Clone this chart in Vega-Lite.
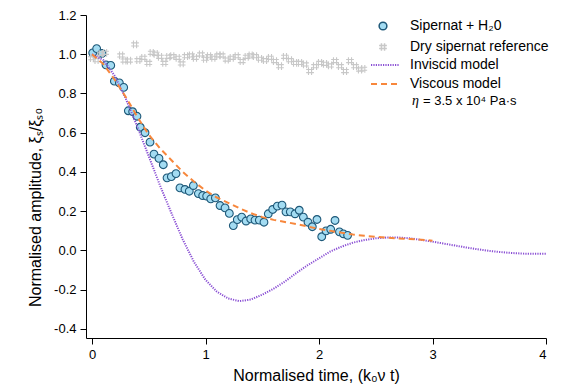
{
  "$schema": "https://vega.github.io/schema/vega-lite/v6.json",
  "width": 460,
  "height": 323,
  "autosize": {"type": "none"},
  "padding": {"left": 86, "top": 15, "right": 20, "bottom": 54},
  "background": "white",
  "config": {
    "view": {"stroke": null},
    "font": "Liberation Sans",
    "axis": {
      "grid": false,
      "domainColor": "#000000",
      "domainWidth": 1,
      "tickColor": "#000000",
      "tickSize": 6,
      "labelColor": "#000000",
      "labelFont": "Liberation Sans",
      "labelFontSize": 13,
      "titleFont": "Liberation Sans",
      "titleFontSize": 16,
      "titleFontWeight": "normal",
      "titleColor": "#000000",
      "labelPadding": 4
    },
    "legend": {
      "labelFont": "Liberation Sans",
      "labelFontSize": 14,
      "labelColor": "#000000",
      "padding": 0
    }
  },
  "datasets": {
    "obs": [
      {"t": 0.006, "amp": 1.007, "series": "Sipernat + H₂0"},
      {"t": 0.041, "amp": 1.029, "series": "Sipernat + H₂0"},
      {"t": 0.088, "amp": 1.004, "series": "Sipernat + H₂0"},
      {"t": 0.123, "amp": 0.946, "series": "Sipernat + H₂0"},
      {"t": 0.165, "amp": 0.943, "series": "Sipernat + H₂0"},
      {"t": 0.197, "amp": 0.863, "series": "Sipernat + H₂0"},
      {"t": 0.241, "amp": 0.854, "series": "Sipernat + H₂0"},
      {"t": 0.279, "amp": 0.831, "series": "Sipernat + H₂0"},
      {"t": 0.320, "amp": 0.712, "series": "Sipernat + H₂0"},
      {"t": 0.358, "amp": 0.707, "series": "Sipernat + H₂0"},
      {"t": 0.396, "amp": 0.684, "series": "Sipernat + H₂0"},
      {"t": 0.425, "amp": 0.628, "series": "Sipernat + H₂0"},
      {"t": 0.467, "amp": 0.600, "series": "Sipernat + H₂0"},
      {"t": 0.511, "amp": 0.552, "series": "Sipernat + H₂0"},
      {"t": 0.546, "amp": 0.491, "series": "Sipernat + H₂0"},
      {"t": 0.590, "amp": 0.469, "series": "Sipernat + H₂0"},
      {"t": 0.628, "amp": 0.437, "series": "Sipernat + H₂0"},
      {"t": 0.661, "amp": 0.370, "series": "Sipernat + H₂0"},
      {"t": 0.699, "amp": 0.376, "series": "Sipernat + H₂0"},
      {"t": 0.740, "amp": 0.392, "series": "Sipernat + H₂0"},
      {"t": 0.775, "amp": 0.319, "series": "Sipernat + H₂0"},
      {"t": 0.819, "amp": 0.311, "series": "Sipernat + H₂0"},
      {"t": 0.857, "amp": 0.302, "series": "Sipernat + H₂0"},
      {"t": 0.893, "amp": 0.331, "series": "Sipernat + H₂0"},
      {"t": 0.937, "amp": 0.290, "series": "Sipernat + H₂0"},
      {"t": 0.975, "amp": 0.280, "series": "Sipernat + H₂0"},
      {"t": 1.010, "amp": 0.277, "series": "Sipernat + H₂0"},
      {"t": 1.046, "amp": 0.263, "series": "Sipernat + H₂0"},
      {"t": 1.087, "amp": 0.268, "series": "Sipernat + H₂0"},
      {"t": 1.128, "amp": 0.229, "series": "Sipernat + H₂0"},
      {"t": 1.172, "amp": 0.217, "series": "Sipernat + H₂0"},
      {"t": 1.210, "amp": 0.189, "series": "Sipernat + H₂0"},
      {"t": 1.245, "amp": 0.127, "series": "Sipernat + H₂0"},
      {"t": 1.280, "amp": 0.157, "series": "Sipernat + H₂0"},
      {"t": 1.319, "amp": 0.170, "series": "Sipernat + H₂0"},
      {"t": 1.357, "amp": 0.150, "series": "Sipernat + H₂0"},
      {"t": 1.398, "amp": 0.161, "series": "Sipernat + H₂0"},
      {"t": 1.436, "amp": 0.155, "series": "Sipernat + H₂0"},
      {"t": 1.474, "amp": 0.155, "series": "Sipernat + H₂0"},
      {"t": 1.515, "amp": 0.144, "series": "Sipernat + H₂0"},
      {"t": 1.553, "amp": 0.187, "series": "Sipernat + H₂0"},
      {"t": 1.592, "amp": 0.209, "series": "Sipernat + H₂0"},
      {"t": 1.633, "amp": 0.226, "series": "Sipernat + H₂0"},
      {"t": 1.674, "amp": 0.231, "series": "Sipernat + H₂0"},
      {"t": 1.709, "amp": 0.197, "series": "Sipernat + H₂0"},
      {"t": 1.747, "amp": 0.197, "series": "Sipernat + H₂0"},
      {"t": 1.789, "amp": 0.187, "series": "Sipernat + H₂0"},
      {"t": 1.826, "amp": 0.205, "series": "Sipernat + H₂0"},
      {"t": 1.862, "amp": 0.170, "series": "Sipernat + H₂0"},
      {"t": 1.903, "amp": 0.144, "series": "Sipernat + H₂0"},
      {"t": 1.941, "amp": 0.121, "series": "Sipernat + H₂0"},
      {"t": 1.982, "amp": 0.158, "series": "Sipernat + H₂0"},
      {"t": 2.024, "amp": 0.070, "series": "Sipernat + H₂0"},
      {"t": 2.062, "amp": 0.100, "series": "Sipernat + H₂0"},
      {"t": 2.103, "amp": 0.108, "series": "Sipernat + H₂0"},
      {"t": 2.141, "amp": 0.153, "series": "Sipernat + H₂0"},
      {"t": 2.180, "amp": 0.095, "series": "Sipernat + H₂0"},
      {"t": 2.215, "amp": 0.085, "series": "Sipernat + H₂0"},
      {"t": 2.252, "amp": 0.077, "series": "Sipernat + H₂0"},
      {"t": 0.000, "amp": 0.980, "series": "Dry sipernat reference"},
      {"t": 0.040, "amp": 0.970, "series": "Dry sipernat reference"},
      {"t": 0.077, "amp": 1.002, "series": "Dry sipernat reference"},
      {"t": 0.115, "amp": 1.007, "series": "Dry sipernat reference"},
      {"t": 0.256, "amp": 0.994, "series": "Dry sipernat reference"},
      {"t": 0.285, "amp": 0.968, "series": "Dry sipernat reference"},
      {"t": 0.326, "amp": 0.968, "series": "Dry sipernat reference"},
      {"t": 0.379, "amp": 1.050, "series": "Dry sipernat reference"},
      {"t": 0.408, "amp": 0.970, "series": "Dry sipernat reference"},
      {"t": 0.452, "amp": 0.982, "series": "Dry sipernat reference"},
      {"t": 0.496, "amp": 0.956, "series": "Dry sipernat reference"},
      {"t": 0.526, "amp": 1.007, "series": "Dry sipernat reference"},
      {"t": 0.561, "amp": 1.002, "series": "Dry sipernat reference"},
      {"t": 0.599, "amp": 0.987, "series": "Dry sipernat reference"},
      {"t": 0.637, "amp": 0.956, "series": "Dry sipernat reference"},
      {"t": 0.672, "amp": 0.987, "series": "Dry sipernat reference"},
      {"t": 0.707, "amp": 0.990, "series": "Dry sipernat reference"},
      {"t": 0.755, "amp": 0.982, "series": "Dry sipernat reference"},
      {"t": 0.790, "amp": 0.953, "series": "Dry sipernat reference"},
      {"t": 0.828, "amp": 0.990, "series": "Dry sipernat reference"},
      {"t": 0.872, "amp": 0.994, "series": "Dry sipernat reference"},
      {"t": 0.907, "amp": 0.982, "series": "Dry sipernat reference"},
      {"t": 0.960, "amp": 0.999, "series": "Dry sipernat reference"},
      {"t": 0.996, "amp": 0.977, "series": "Dry sipernat reference"},
      {"t": 1.031, "amp": 0.990, "series": "Dry sipernat reference"},
      {"t": 1.069, "amp": 0.982, "series": "Dry sipernat reference"},
      {"t": 1.113, "amp": 0.994, "series": "Dry sipernat reference"},
      {"t": 1.142, "amp": 0.994, "series": "Dry sipernat reference"},
      {"t": 1.187, "amp": 0.973, "series": "Dry sipernat reference"},
      {"t": 1.231, "amp": 0.982, "series": "Dry sipernat reference"},
      {"t": 1.275, "amp": 0.990, "series": "Dry sipernat reference"},
      {"t": 1.319, "amp": 0.965, "series": "Dry sipernat reference"},
      {"t": 1.363, "amp": 0.987, "series": "Dry sipernat reference"},
      {"t": 1.398, "amp": 0.994, "series": "Dry sipernat reference"},
      {"t": 1.436, "amp": 0.990, "series": "Dry sipernat reference"},
      {"t": 1.480, "amp": 0.977, "series": "Dry sipernat reference"},
      {"t": 1.524, "amp": 0.970, "series": "Dry sipernat reference"},
      {"t": 1.568, "amp": 0.982, "series": "Dry sipernat reference"},
      {"t": 1.612, "amp": 0.965, "series": "Dry sipernat reference"},
      {"t": 1.656, "amp": 0.939, "series": "Dry sipernat reference"},
      {"t": 1.700, "amp": 0.987, "series": "Dry sipernat reference"},
      {"t": 1.744, "amp": 0.970, "series": "Dry sipernat reference"},
      {"t": 1.789, "amp": 0.956, "series": "Dry sipernat reference"},
      {"t": 1.833, "amp": 0.956, "series": "Dry sipernat reference"},
      {"t": 1.877, "amp": 0.948, "series": "Dry sipernat reference"},
      {"t": 1.921, "amp": 0.914, "series": "Dry sipernat reference"},
      {"t": 1.965, "amp": 0.939, "series": "Dry sipernat reference"},
      {"t": 2.009, "amp": 0.956, "series": "Dry sipernat reference"},
      {"t": 2.053, "amp": 0.951, "series": "Dry sipernat reference"},
      {"t": 2.097, "amp": 0.943, "series": "Dry sipernat reference"},
      {"t": 2.141, "amp": 0.965, "series": "Dry sipernat reference"},
      {"t": 2.185, "amp": 0.939, "series": "Dry sipernat reference"},
      {"t": 2.229, "amp": 0.914, "series": "Dry sipernat reference"},
      {"t": 2.273, "amp": 0.965, "series": "Dry sipernat reference"},
      {"t": 2.317, "amp": 0.939, "series": "Dry sipernat reference"},
      {"t": 2.361, "amp": 0.922, "series": "Dry sipernat reference"},
      {"t": 2.390, "amp": 0.926, "series": "Dry sipernat reference"}
    ],
    "models": [
      {"t": 0.0, "amp": 1.0, "model": "Inviscid model"},
      {"t": 0.1, "amp": 0.97, "model": "Inviscid model"},
      {"t": 0.2, "amp": 0.89, "model": "Inviscid model"},
      {"t": 0.3, "amp": 0.77, "model": "Inviscid model"},
      {"t": 0.4, "amp": 0.63, "model": "Inviscid model"},
      {"t": 0.5, "amp": 0.48, "model": "Inviscid model"},
      {"t": 0.6, "amp": 0.33, "model": "Inviscid model"},
      {"t": 0.7, "amp": 0.19, "model": "Inviscid model"},
      {"t": 0.8, "amp": 0.055, "model": "Inviscid model"},
      {"t": 0.9, "amp": -0.06, "model": "Inviscid model"},
      {"t": 1.0, "amp": -0.15, "model": "Inviscid model"},
      {"t": 1.1, "amp": -0.21, "model": "Inviscid model"},
      {"t": 1.2, "amp": -0.245, "model": "Inviscid model"},
      {"t": 1.3, "amp": -0.258, "model": "Inviscid model"},
      {"t": 1.4, "amp": -0.25, "model": "Inviscid model"},
      {"t": 1.5, "amp": -0.225, "model": "Inviscid model"},
      {"t": 1.6, "amp": -0.195, "model": "Inviscid model"},
      {"t": 1.7, "amp": -0.158, "model": "Inviscid model"},
      {"t": 1.8, "amp": -0.115, "model": "Inviscid model"},
      {"t": 1.9, "amp": -0.075, "model": "Inviscid model"},
      {"t": 2.0, "amp": -0.04, "model": "Inviscid model"},
      {"t": 2.1, "amp": -0.005, "model": "Inviscid model"},
      {"t": 2.2, "amp": 0.02, "model": "Inviscid model"},
      {"t": 2.3, "amp": 0.04, "model": "Inviscid model"},
      {"t": 2.4, "amp": 0.053, "model": "Inviscid model"},
      {"t": 2.5, "amp": 0.062, "model": "Inviscid model"},
      {"t": 2.6, "amp": 0.066, "model": "Inviscid model"},
      {"t": 2.7, "amp": 0.066, "model": "Inviscid model"},
      {"t": 2.8, "amp": 0.062, "model": "Inviscid model"},
      {"t": 2.9, "amp": 0.054, "model": "Inviscid model"},
      {"t": 3.0, "amp": 0.045, "model": "Inviscid model"},
      {"t": 3.1, "amp": 0.035, "model": "Inviscid model"},
      {"t": 3.2, "amp": 0.025, "model": "Inviscid model"},
      {"t": 3.3, "amp": 0.015, "model": "Inviscid model"},
      {"t": 3.4, "amp": 0.006, "model": "Inviscid model"},
      {"t": 3.5, "amp": -0.002, "model": "Inviscid model"},
      {"t": 3.6, "amp": -0.008, "model": "Inviscid model"},
      {"t": 3.7, "amp": -0.013, "model": "Inviscid model"},
      {"t": 3.8, "amp": -0.016, "model": "Inviscid model"},
      {"t": 3.9, "amp": -0.017, "model": "Inviscid model"},
      {"t": 4.0, "amp": -0.017, "model": "Inviscid model"},
      {"t": 0.0, "amp": 1.0, "model": "Viscous model"},
      {"t": 0.1, "amp": 0.95, "model": "Viscous model"},
      {"t": 0.2, "amp": 0.87, "model": "Viscous model"},
      {"t": 0.3, "amp": 0.78, "model": "Viscous model"},
      {"t": 0.4, "amp": 0.68, "model": "Viscous model"},
      {"t": 0.5, "amp": 0.59, "model": "Viscous model"},
      {"t": 0.6, "amp": 0.52, "model": "Viscous model"},
      {"t": 0.7, "amp": 0.46, "model": "Viscous model"},
      {"t": 0.8, "amp": 0.40, "model": "Viscous model"},
      {"t": 0.9, "amp": 0.35, "model": "Viscous model"},
      {"t": 1.0, "amp": 0.305, "model": "Viscous model"},
      {"t": 1.1, "amp": 0.27, "model": "Viscous model"},
      {"t": 1.2, "amp": 0.243, "model": "Viscous model"},
      {"t": 1.3, "amp": 0.215, "model": "Viscous model"},
      {"t": 1.4, "amp": 0.19, "model": "Viscous model"},
      {"t": 1.5, "amp": 0.17, "model": "Viscous model"},
      {"t": 1.6, "amp": 0.156, "model": "Viscous model"},
      {"t": 1.7, "amp": 0.145, "model": "Viscous model"},
      {"t": 1.8, "amp": 0.135, "model": "Viscous model"},
      {"t": 1.9, "amp": 0.122, "model": "Viscous model"},
      {"t": 2.0, "amp": 0.11, "model": "Viscous model"},
      {"t": 2.1, "amp": 0.10, "model": "Viscous model"},
      {"t": 2.2, "amp": 0.09, "model": "Viscous model"},
      {"t": 2.3, "amp": 0.081, "model": "Viscous model"},
      {"t": 2.4, "amp": 0.075, "model": "Viscous model"},
      {"t": 2.5, "amp": 0.07, "model": "Viscous model"},
      {"t": 2.6, "amp": 0.065, "model": "Viscous model"},
      {"t": 2.7, "amp": 0.061, "model": "Viscous model"},
      {"t": 2.8, "amp": 0.058, "model": "Viscous model"},
      {"t": 2.9, "amp": 0.055, "model": "Viscous model"},
      {"t": 3.0, "amp": 0.05, "model": "Viscous model"}
    ],
    "note": [
      {"t": 2.82, "amp": 0.764, "sym": "η", "rest": "= 3.5 x 10⁴ Pa·s"}
    ]
  },
  "layer": [
    {
      "data": {"name": "obs"},
      "mark": {"type": "point", "size": 60, "strokeWidth": 1.1, "opacity": 1},
      "encoding": {
        "x": {
          "field": "t", "type": "quantitative",
          "scale": {"domain": [-0.053, 4.0], "nice": false, "zero": false},
          "axis": {"values": [0, 1, 2, 3, 4], "format": "d", "title": "Normalised time, (k₀ν t)", "titlePadding": 6}
        },
        "y": {
          "field": "amp", "type": "quantitative",
          "scale": {"domain": [-0.446, 1.2], "nice": false, "zero": false},
          "axis": {
            "values": [-0.4, -0.2, 0, 0.2, 0.4, 0.6, 0.8, 1.0, 1.2],
            "labelExpr": "replace(format(datum.value, '.1f'), '−', '-')",
            "title": "Normalised amplitude, ξₛ/ξₛ₀",
            "titlePadding": 10,
            "titleY": 192
          }
        },
        "shape": {
          "field": "series", "type": "nominal",
          "scale": {"domain": ["Sipernat + H₂0", "Dry sipernat reference"], "range": ["circle", "M-0.4,-1V1M0.4,-1V1M-1,-0.4H1M-1,0.4H1"]},
          "legend": {"orient": "none", "legendX": 290, "legendY": 4, "title": null, "labelOffset": 20, "rowPadding": 7, "symbolSize": 60}
        },
        "fill": {
          "field": "series", "type": "nominal",
          "scale": {"domain": ["Sipernat + H₂0", "Dry sipernat reference"], "range": ["#a3dcf2", "transparent"]},
          "legend": {"orient": "none", "legendX": 290, "legendY": 4, "title": null, "labelOffset": 20, "rowPadding": 7, "symbolSize": 60}
        },
        "stroke": {
          "field": "series", "type": "nominal",
          "scale": {"domain": ["Sipernat + H₂0", "Dry sipernat reference"], "range": ["#1e5878", "#c8c8c8"]},
          "legend": {"orient": "none", "legendX": 290, "legendY": 4, "title": null, "labelOffset": 20, "rowPadding": 7, "symbolSize": 60}
        }
      }
    },
    {
      "data": {"name": "models"},
      "mark": {"type": "line", "strokeWidth": 2},
      "encoding": {
        "x": {"field": "t", "type": "quantitative"},
        "y": {"field": "amp", "type": "quantitative"},
        "color": {
          "field": "model", "type": "nominal",
          "scale": {"domain": ["Inviscid model", "Viscous model"], "range": ["#8a4fd4", "#f7873c"]},
          "legend": {"orient": "none", "legendX": 291, "legendY": 42, "title": null, "labelOffset": 17, "rowPadding": 4, "symbolSize": 196, "symbolType": "M-2,0H2", "symbolStrokeWidth": 2}
        },
        "strokeDash": {
          "field": "model", "type": "nominal",
          "scale": {"domain": ["Inviscid model", "Viscous model"], "range": [[1.2, 1.2], [6, 4]]},
          "legend": {"orient": "none", "legendX": 291, "legendY": 42, "title": null, "labelOffset": 17, "rowPadding": 4, "symbolSize": 196, "symbolType": "M-2,0H2", "symbolStrokeWidth": 2}
        }
      }
    },
    {
      "data": {"name": "note"},
      "mark": {"type": "text", "align": "left", "baseline": "middle", "fontSize": 14, "font": "Liberation Serif", "fontStyle": "italic"},
      "encoding": {
        "x": {"field": "t", "type": "quantitative"},
        "y": {"field": "amp", "type": "quantitative"},
        "text": {"field": "sym"}
      }
    },
    {
      "data": {"name": "note"},
      "mark": {"type": "text", "align": "left", "baseline": "middle", "fontSize": 13, "dx": 11, "font": "Liberation Sans"},
      "encoding": {
        "x": {"field": "t", "type": "quantitative"},
        "y": {"field": "amp", "type": "quantitative"},
        "text": {"field": "rest"}
      }
    }
  ]
}
